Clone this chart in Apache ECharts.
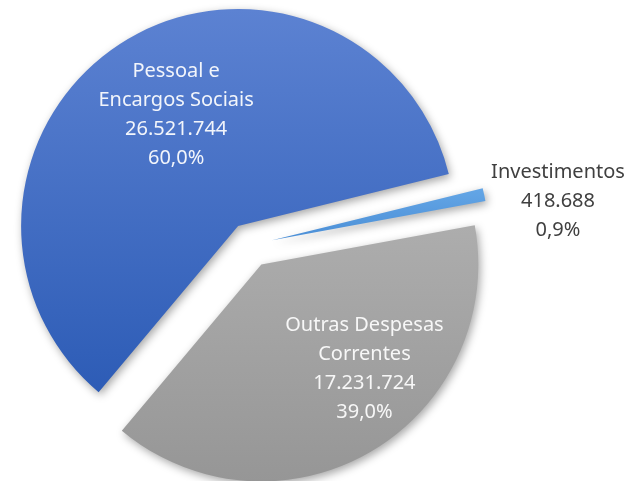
<!DOCTYPE html>
<html>
<head>
<meta charset="utf-8">
<script src="https://cdn.jsdelivr.net/npm/echarts@6/dist/echarts.min.js"></script>
<style>html,body{margin:0;padding:0;background:#fff;}#c{width:635px;height:481px;}</style>
</head>
<body>
<div id="c"></div>
<script>
const categories = ['Pessoal e\nEncargos Sociais', 'Investimentos', 'Outras Despesas\nCorrentes'];
const values = [26521744, 418688, 17231724];

const fills = [
  ['#5c82d2', '#2d5cb6'],
  ['#64a6e6', '#4a8ed6'],
  ['#adadad', '#969696']
];
const labelColors = ['#f2f5fb', '#404040', '#f7f7f7'];
const labelShift = [[-3, -16], [177, -16], [47, 8]];

function fmtNum(v) {
  return String(v).replace(/\B(?=(\d{3})+(?!\d))/g, '.');
}

const chart = echarts.init(document.getElementById('c'), null, {renderer: 'canvas'});
chart.setOption({
  animation: false,
  backgroundColor: '#ffffff',
  series: [{
    type: 'pie',
    center: [250, 245],
    radius: 217,
    startAngle: 230,
    clockwise: true,
    selectedMode: 'multiple',
    selectedOffset: 22.5,
    emphasis: {disabled: true},
    select: {itemStyle: {}},
    avoidLabelOverlap: false,
    label: {
      show: true,
      position: 'inside',
      fontFamily: 'Noto Sans',
      fontSize: 20,
      lineHeight: 29,
      align: 'center',
      formatter: function (p) {
        return p.name + '\n' + fmtNum(p.value) + '\n' + p.percent.toFixed(1).replace('.', ',') + '%';
      }
    },
    labelLine: {show: false},
    labelLayout: function (p) {
      return {dx: labelShift[p.dataIndex][0], dy: labelShift[p.dataIndex][1]};
    },
    data: categories.map(function (name, i) {
      return {
        name: name,
        value: values[i],
        selected: true,
        itemStyle: {
          color: new echarts.graphic.LinearGradient(0, 0, 0, 1, [
            {offset: 0, color: fills[i][0]},
            {offset: 1, color: fills[i][1]}
          ]),
          shadowBlur: 8,
          shadowColor: 'rgba(0,0,0,0.35)',
          shadowOffsetX: 2,
          shadowOffsetY: 3
        },
        label: {color: labelColors[i]}
      };
    })
  }]
});
</script>
</body>
</html>
